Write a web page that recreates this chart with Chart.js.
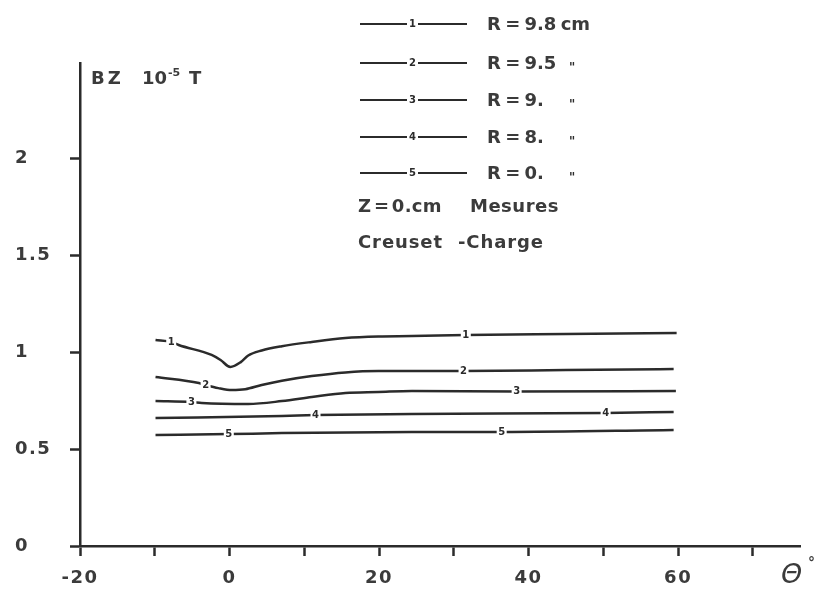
<!DOCTYPE html>
<html>
<head>
<meta charset="utf-8">
<script src="https://cdn.jsdelivr.net/npm/chart.js@4.4.1/dist/chart.umd.min.js"></script>
<style>
html,body{margin:0;padding:0;background:#fff;}
#wrap{position:relative;width:815px;height:589px;overflow:hidden;}
#c{position:absolute;left:0;top:0;}
.t{position:absolute;font-family:"DejaVu Sans",sans-serif;font-weight:bold;color:#3b3b3b;white-space:nowrap;line-height:1;transform:translateY(-50%);}
.seg{position:absolute;height:0;border-top:2.5px solid #2b2b2b;transform:translateY(-50%);}
.num{position:absolute;font:bold 10px "DejaVu Sans",sans-serif;color:#2b2b2b;line-height:1;transform:translate(-50%,-50%);}
</style>
</head>
<body>
<div id="wrap">
<canvas id="c" width="815" height="589"></canvas>
<div id="ov"></div>
</div>
<script>
// ---- data (theta in degrees, Bz in 1e-5 T) ----
const theta1 = [-9.9, -7.8, -6.8, -2.4, -1.2, 0.1, 1.5, 2.5, 4.3, 7.0, 11.0, 15.5, 19.9, 24.4, 31.6, 45.0, 59.8];
const bz1    = [1.062, 1.052, 1.036, 0.985, 0.959, 0.923, 0.948, 0.982, 1.008, 1.030, 1.052, 1.072, 1.080, 1.082, 1.088, 1.093, 1.098];

const theta2 = [-9.9, -4.1, -3.2, -1.5, 0.3, 2.1, 4.3, 7.0, 11.0, 15.5, 19.9, 24.4, 31.3, 45.0, 59.4];
const bz2    = [0.871, 0.840, 0.830, 0.814, 0.804, 0.808, 0.830, 0.852, 0.876, 0.895, 0.902, 0.902, 0.902, 0.907, 0.912];

const theta3 = [-9.9, -5.1, -3.7, 2.5, 7.0, 11.0, 15.5, 19.9, 24.4, 38.4, 59.7];
const bz3    = [0.747, 0.742, 0.737, 0.732, 0.747, 0.768, 0.789, 0.794, 0.799, 0.797, 0.799];

const theta4 = [-9.9, 7.0, 11.5, 24.4, 50.3, 59.4];
const bz4    = [0.660, 0.670, 0.675, 0.680, 0.686, 0.691];

const theta5 = [-9.9, -0.1, 7.0, 24.4, 36.4, 59.4];
const bz5    = [0.572, 0.577, 0.582, 0.588, 0.588, 0.598];

const curveIds   = ['1', '2', '3', '4', '5'];
const radiusText = ['R = 9.8 cm', 'R = 9.5', 'R = 9.', 'R = 8.', 'R = 0.'];
const dittoMark  = '"';
const noteLine1  = ['Z = 0.cm', 'Mesures'];
const noteLine2  = ['Creuset', '-Charge'];
const labelIndex = [[1, 14], [2, 12], [1, 9], [2, 4], [1, 4]];   // data points that carry the curve number

const xTickValues = [-20, -10, 0, 10, 20, 30, 40, 50, 60, 70];
const xTickLabels = ['-20', '', '0', '', '20', '', '40', '', '60', ''];
const yTickValues = [0, 0.5, 1, 1.5, 2];
const yTickLabels = ['0', '0.5', '1', '1.5', '2'];

// ---- chart ----
const INK = '#2b2b2b';
const TXT = '#3b3b3b';
const seriesX = [theta1, theta2, theta3, theta4, theta5];
const seriesY = [bz1, bz2, bz3, bz4, bz5];

const datasets = seriesX.map((xs, i) => ({
  label: curveIds[i],
  data: xs.map((x, k) => ({ x: x, y: seriesY[i][k] })),
  borderColor: INK,
  borderWidth: 2.5,
  pointRadius: 0,
  fill: false,
  cubicInterpolationMode: 'monotone'
}));

const spacing = {
  id: 'spacing',
  beforeLayout(chart) { chart.ctx.letterSpacing = '1.5px'; }
};

const inlineLabels = {
  id: 'inlineLabels',
  afterDatasetsDraw(chart) {
    const ctx = chart.ctx;
    ctx.save();
    ctx.letterSpacing = '0px';
    ctx.font = 'bold 10px "DejaVu Sans"';
    ctx.textAlign = 'center';
    ctx.textBaseline = 'middle';
    chart.data.datasets.forEach((ds, i) => {
      const meta = chart.getDatasetMeta(i);
      labelIndex[i].forEach(k => {
        const p = meta.data[k];
        ctx.fillStyle = '#fff';
        ctx.fillRect(p.x - 5, p.y - 5, 10, 10);
        ctx.fillStyle = INK;
        ctx.fillText(curveIds[i], p.x, p.y + 0.5);
      });
    });
    ctx.restore();
  }
};

const tickFont = { family: 'DejaVu Sans', weight: 'bold', size: 18 };
const gridOpts = { drawOnChartArea: false, drawTicks: true, tickLength: 10, tickWidth: 2.5, tickColor: INK };
const borderOpts = { display: true, color: INK, width: 2.5 };

new Chart(document.getElementById('c'), {
  type: 'line',
  data: { datasets: datasets },
  options: {
    responsive: false,
    animation: false,
    events: [],
    layout: { padding: { left: 15, top: 63, right: 15, bottom: 0 } },
    plugins: { legend: { display: false }, tooltip: { enabled: false } },
    scales: {
      x: {
        type: 'linear', min: -20, max: 76.3,
        afterBuildTicks: s => { s.ticks = xTickValues.map(v => ({ value: v })); },
        afterFit: s => { s.height = 43; },
        grid: gridOpts, border: borderOpts,
        ticks: {
          autoSkip: false, maxRotation: 0, padding: 12, color: TXT, font: tickFont,
          callback: v => xTickLabels[xTickValues.indexOf(v)]
        }
      },
      y: {
        type: 'linear', min: 0, max: 2.49,
        afterBuildTicks: s => { s.ticks = yTickValues.map(v => ({ value: v })); },
        afterFit: s => { s.width = 65; },
        grid: gridOpts, border: borderOpts,
        ticks: {
          crossAlign: 'far', color: TXT, font: tickFont,
          callback: v => yTickLabels[yTickValues.indexOf(v)]
        }
      }
    }
  },
  plugins: [spacing, inlineLabels]
});

// ---- legend / annotations (HTML text) ----
const ov = document.getElementById('ov');
function add(cls, text, left, top, style) {
  const d = document.createElement('div');
  d.className = cls;
  if (text !== null) d.textContent = text;
  d.style.left = left + 'px';
  d.style.top = top + 'px';
  if (style) d.style.cssText += style;
  ov.appendChild(d);
  return d;
}
const rowY = [24, 63, 100, 137, 173];
rowY.forEach((y, i) => {
  add('seg', null, 360, y, 'width:47px;');
  add('num', curveIds[i], 412.5, y);
  add('seg', null, 418, y, 'width:49px;');
  add('t', radiusText[i], 487, y, 'font-size:18px;word-spacing:-2px;');
  if (i > 0) add('t', dittoMark, 569, y + 4, 'font-size:12px;font-style:italic;color:#2b2b2b;');
});
add('t', noteLine1[0], 358, 206, 'font-size:18px;word-spacing:-4px;letter-spacing:0.3px;');
add('t', noteLine1[1], 470, 206, 'font-size:18px;letter-spacing:0.5px;');
add('t', noteLine2[0], 358, 242, 'font-size:18px;letter-spacing:0.9px;');
add('t', noteLine2[1], 458, 242, 'font-size:18px;letter-spacing:0.9px;');

// y-axis title: BZ 10^-5 T
add('t', 'BZ', 91, 78, 'font-size:18px;letter-spacing:3px;');
add('t', '10', 142, 78, 'font-size:18px;');
add('t', '-5', 168, 72, 'font-size:11px;');
add('t', 'T', 189, 78, 'font-size:18px;');
// x-axis title
add('t', '\u0398', 781, 573, 'font-size:27px;font-weight:normal;font-style:italic;');
add('t', '\u00B0', 808, 562, 'font-size:14px;');
</script>
</body>
</html>
